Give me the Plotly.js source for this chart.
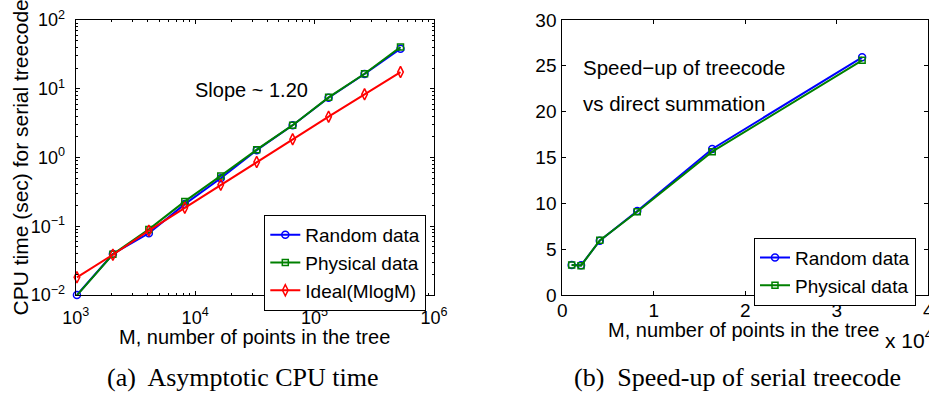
<!DOCTYPE html>
<html>
<head>
<meta charset="utf-8">
<script src="https://cdn.plot.ly/plotly-3.0.1.min.js"></script>
<style>html,body{margin:0;padding:0;background:#fff;} #chart{width:929px;height:394px;}</style>
</head>
<body>
<div id="chart"></div>
<script>
// ---- data ----
const M = [1024, 2048, 4096, 8192, 16384, 32768, 65536, 131072, 262144, 524288];
const cpuRandom   = [0.0100, 0.0395, 0.079, 0.21, 0.50, 1.28, 2.94, 7.4, 16.4, 38.3];
const cpuPhysical = [0.0099, 0.0390, 0.090, 0.23, 0.54, 1.30, 2.95, 7.5, 16.5, 40.5];
const cpuIdeal    = [0.0181, 0.0385, 0.0862, 0.186, 0.40, 0.86, 1.84, 3.92, 8.3, 17.5];

const Msmall = [1024, 2048, 4096, 8192, 16384, 32768];
const speedRandom   = [3.27, 3.24, 5.93, 9.16, 15.93, 25.93];
const speedPhysical = [3.27, 3.20, 5.96, 9.09, 15.64, 25.60];

const logXTickVals = [1e3, 1e4, 1e5, 1e6];
const logXTickText = ['10<sup>3</sup>', '10<sup>4</sup>', '10<sup>5</sup>', '10<sup>6</sup>'];
const logYTickVals = [0.01, 0.1, 1, 10, 100];
const logYTickText = ['10<sup>−2</sup>', '10<sup>−1</sup>', '10<sup>0</sup>', '10<sup>1</sup>', '10<sup>2</sup>'];
const linXTickVals = [0, 10000, 20000, 30000, 40000];
const linXTickText = ['0', '1', '2', '3', '4'];

const seriesNames = ['Random data', 'Physical data', 'Ideal(MlogM)'];

// ---- styling ----
const BLUE = '#0000ff', GREEN = '#008000', RED = '#ff0000';
const SANS = 'Liberation Sans, Arial, Helvetica, sans-serif';
const SERIF = 'Liberation Serif, Times New Roman, serif';

function minorLog(d0, d1) {
  const v = [];
  for (let d = d0; d < d1; d++) for (let k = 2; k <= 9; k++) v.push(k * Math.pow(10, d));
  return v;
}

const line = (c) => ({color: c, width: 2});
const traces = [
  {x: M, y: cpuRandom, name: seriesNames[0], mode: 'lines+markers', cliponaxis: false,
   line: line(BLUE), marker: {symbol: 'circle-open', size: 7, color: BLUE, line: {width: 1.5}},
   xaxis: 'x', yaxis: 'y', legend: 'legend'},
  {x: M, y: cpuPhysical, name: seriesNames[1], mode: 'lines+markers', cliponaxis: false,
   line: line(GREEN), marker: {symbol: 'square-open', size: 6, color: GREEN, line: {width: 1.5}},
   xaxis: 'x', yaxis: 'y', legend: 'legend'},
  {x: M, y: cpuIdeal, name: seriesNames[2], mode: 'lines+markers', cliponaxis: false,
   line: line(RED), marker: {symbol: 'diamond-tall-open', size: 8, color: RED, line: {width: 1.5}},
   xaxis: 'x', yaxis: 'y', legend: 'legend'},
  {x: Msmall, y: speedRandom, name: seriesNames[0], mode: 'lines+markers', cliponaxis: false,
   line: line(BLUE), marker: {symbol: 'circle-open', size: 7, color: BLUE, line: {width: 1.5}},
   xaxis: 'x2', yaxis: 'y2', legend: 'legend2'},
  {x: Msmall, y: speedPhysical, name: seriesNames[1], mode: 'lines+markers', cliponaxis: false,
   line: line(GREEN), marker: {symbol: 'square-open', size: 6, color: GREEN, line: {width: 1.5}},
   xaxis: 'x2', yaxis: 'y2', legend: 'legend2'}
];

const axBase = {
  showline: true, linecolor: '#000', linewidth: 1, mirror: 'allticks',
  ticks: 'inside', ticklen: 4, tickcolor: '#000', tickwidth: 1,
  showgrid: false, zeroline: false, fixedrange: true
};
const yDom = [1 - 295 / 394, 1 - 20 / 394];

const legendBase = {
  bgcolor: '#fff', bordercolor: '#000', borderwidth: 1,
  font: {family: SANS, size: 19, color: '#000'},
  xanchor: 'left', yanchor: 'top', tracegroupgap: 0, itemwidth: 30
};

const ann = (text, x, y, opts) => Object.assign({
  text: text, xref: 'paper', yref: 'paper', x: x / 929, y: 1 - y / 394,
  showarrow: false, xanchor: 'center', yanchor: 'middle', font: {family: SANS, size: 20, color: '#000'}
}, opts || {});

const layout = {
  width: 929, height: 394,
  margin: {l: 0, r: 0, t: 0, b: 0},
  paper_bgcolor: '#fff', plot_bgcolor: '#fff',
  font: {family: SANS, size: 19, color: '#000'},
  showlegend: true,
  xaxis: Object.assign({}, axBase, {
    domain: [75.7 / 929, 434 / 929], type: 'log', range: [3, 6], anchor: 'y',
    tickmode: 'array', tickvals: logXTickVals, ticktext: logXTickText,
    tickfont: {family: SANS, size: 18}, ticklabelstandoff: 6,
    minor: {tickmode: 'array', tickvals: minorLog(3, 6), ticks: 'inside', ticklen: 2, tickcolor: '#000', showgrid: false}
  }),
  yaxis: Object.assign({}, axBase, {
    domain: yDom, type: 'log', range: [-2, 2], anchor: 'x',
    tickmode: 'array', tickvals: logYTickVals, ticktext: logYTickText,
    tickfont: {family: SANS, size: 18}, ticklabelstandoff: 6,
    minor: {tickmode: 'array', tickvals: minorLog(-2, 2), ticks: 'inside', ticklen: 2, tickcolor: '#000', showgrid: false}
  }),
  xaxis2: Object.assign({}, axBase, {
    domain: [562.3 / 929, 928.3 / 929], range: [0, 40000], anchor: 'y2',
    tickmode: 'array', tickvals: linXTickVals, ticktext: linXTickText,
    tickfont: {family: SANS, size: 19}, ticklabelstandoff: -2, ticklabeloverflow: 'allow'
  }),
  yaxis2: Object.assign({}, axBase, {
    domain: yDom, range: [0, 30], anchor: 'x2', tickmode: 'linear', tick0: 0, dtick: 5,
    tickfont: {family: SANS, size: 19}, ticklabelstandoff: 1
  }),
  legend: Object.assign({}, legendBase, {x: 264.3 / 929, y: 1 - 215 / 394}),
  legend2: Object.assign({}, legendBase, {x: 754 / 929, y: 1 - 237.7 / 394}),
  annotations: [
    ann('Slope ~ 1.20', 251, 90),
    ann('Speed−up of treecode', 581, 67, {xanchor: 'left', font: {family: SANS, size: 20.5}}),
    ann('vs direct summation', 581, 103, {xanchor: 'left', font: {family: SANS, size: 20.5}}),
    ann('M, number of points in the tree', 254, 337),
    ann('M, number of points in the tree', 743, 330),
    ann('x 10<sup>4</sup>', 883, 339, {xanchor: 'left', font: {family: SANS, size: 21}}),
    ann('CPU time (sec) for serial treecode', 20, 157.5, {textangle: -90, font: {family: SANS, size: 21}}),
    ann('(a)  Asymptotic CPU time', 242.5, 377, {font: {family: SERIF, size: 26}}),
    ann('(b)  Speed-up of serial treecode', 737, 377, {font: {family: SERIF, size: 26}})
  ]
};

Plotly.newPlot('chart', traces, layout, {displayModeBar: false, staticPlot: true});
</script>
</body>
</html>
